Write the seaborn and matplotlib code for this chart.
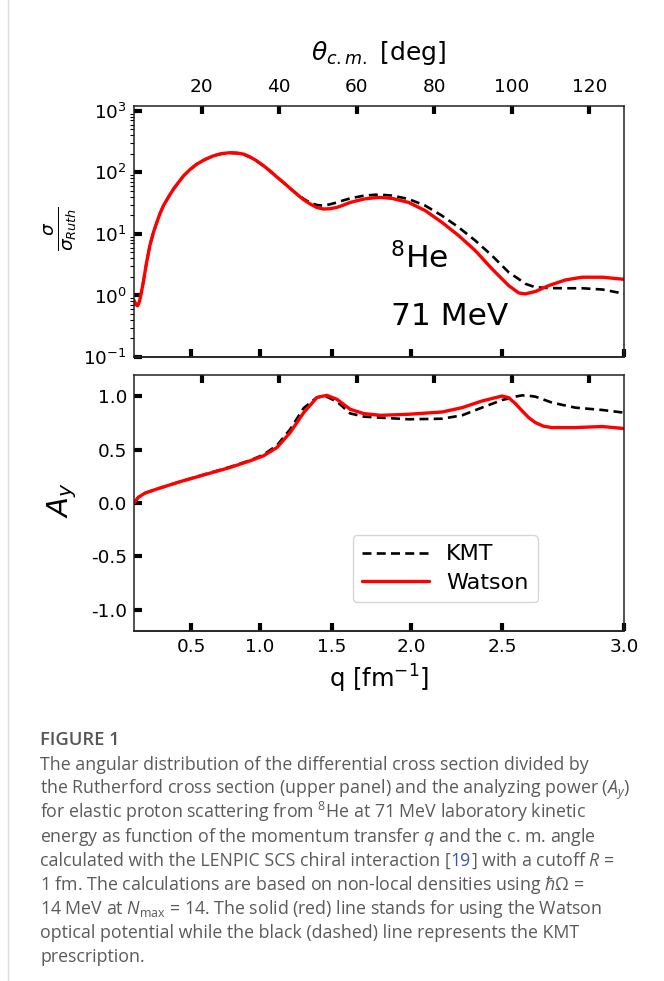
import numpy as np
import matplotlib
matplotlib.use("Agg")
import matplotlib.pyplot as plt
from matplotlib.ticker import FixedLocator, FixedFormatter
import seaborn as sns

# ---------------------------------------------------------------------------
# Data: p + 8He elastic scattering at 71 MeV
# ---------------------------------------------------------------------------
# cross section ratio sigma / sigma_Ruth versus c.m. angle (deg)
theta_xs = [2.5, 3.0, 3.4, 3.9, 4.4, 4.9, 5.7, 6.6, 7.5, 8.4, 9.2, 10.1,
            11.4, 12.7, 14.0, 15.3, 17.0, 18.7, 20.8, 23.0, 25.0, 27.3,
            29.0, 30.8, 32.5, 34.2, 35.9, 37.6, 39.3, 41.1, 42.8, 44.5,
            46.2, 48.0, 49.7, 51.4, 53.1, 54.9, 56.6, 58.3, 61.8, 64.8,
            66.1, 69.1, 73.4, 77.7, 82.0, 86.3, 90.6, 94.9, 99.2, 101.8,
            103.5, 106.1, 109.6, 113.9, 118.2, 123.4, 129.0]
xs_kmt = [0.83, 0.71, 0.68, 0.79, 1.12, 1.64, 3.3, 6.5, 10.5, 15.5, 21.4, 28.8,
          39.8, 53.7, 69.0, 88.0, 112.0, 136.0, 162.0, 186.0, 200.0, 207.0,
          205.0, 196.0, 176.0, 152.0, 128.0, 105.0, 85.0, 68.0, 55.0, 45.0,
          37.5, 32.0, 29.5, 28.8, 30.3, 32.5, 35.2, 37.8, 41.8, 43.4,
          43.4, 42.0, 36.9, 28.8, 19.8, 12.8, 7.8, 4.45, 2.39, 1.85,
          1.55, 1.36, 1.32, 1.31, 1.31, 1.25, 1.07]
xs_watson = [0.83, 0.71, 0.68, 0.79, 1.12, 1.64, 3.3, 6.5, 10.5, 15.5, 21.4, 28.8,
             39.8, 53.7, 69.0, 88.0, 112.0, 136.0, 162.0, 186.0, 202.0, 209.0,
             207.0, 198.0, 178.0, 154.0, 129.0, 106.0, 85.0, 68.6, 55.0, 44.5,
             36.3, 30.6, 26.9, 25.4, 25.7, 27.0, 29.5, 32.5, 36.9, 38.9,
             39.2, 37.8, 32.5, 23.9, 15.4, 9.4, 5.36, 2.71, 1.45, 1.10,
             1.06, 1.16, 1.45, 1.79, 1.98, 1.98, 1.83]

# analyzing power A_y versus c.m. angle (deg)
theta_ay = [2.5, 3.6, 5.35, 8.4, 14.4, 20.4, 27.3, 32.5, 35.9, 39.4, 42.8,
            46.3, 49.7, 51.0, 52.3, 54.9, 58.3, 61.8, 66.1, 73.4, 82.0, 87.2,
            92.3, 97.5, 99.2, 101.0, 102.7, 104.4, 106.1, 108.2, 110.4,
            116.4, 123.4, 129.0]
ay_kmt = [0.0, 0.053, 0.093, 0.131, 0.20, 0.265, 0.338, 0.40, 0.452, 0.54, 0.69,
          0.89, 0.99, 1.0, 0.995, 0.95, 0.84, 0.81, 0.80, 0.785, 0.79, 0.822,
          0.894, 0.965, 0.98, 0.998, 1.009, 1.005, 0.997, 0.97, 0.941,
          0.894, 0.872, 0.847]
ay_watson = [0.0, 0.053, 0.093, 0.131, 0.20, 0.262, 0.333, 0.396, 0.442, 0.52, 0.66,
             0.847, 0.988, 1.0, 1.009, 0.972, 0.879, 0.838, 0.822, 0.832, 0.853, 0.894,
             0.956, 1.003, 0.988, 0.93, 0.863, 0.80, 0.754, 0.72, 0.707,
             0.707, 0.717, 0.698]

theta_ticks = [20, 40, 60, 80, 100, 120]
q_ticks = [0.5, 1.0, 1.5, 2.0, 2.5, 3.0]
q_ticklabels = ["0.5", "1.0", "1.5", "2.0", "2.5", "3.0"]
ay_ticks = [-1.0, -0.5, 0.0, 0.5, 1.0]
ay_ticklabels = ["-1.0", "-0.5", "0.0", "0.5", "1.0"]

# c.m. momentum (fm^-1): q = 2 k sin(theta/2)
K_CM = 1.662


def deg_to_q(t):
    return 2.0 * K_CM * np.sin(np.radians(np.asarray(t, dtype=float)) / 2.0)


def q_to_deg(q):
    r = np.clip(np.asarray(q, dtype=float) / (2.0 * K_CM), -1.0, 1.0)
    return np.degrees(2.0 * np.arcsin(r))


# ---------------------------------------------------------------------------
# Style
# ---------------------------------------------------------------------------
sns.set_style("ticks")
plt.rcParams["font.family"] = ["DejaVu Sans"]
plt.rcParams["axes.unicode_minus"] = False
plt.rcParams["mathtext.rm"] = "Open Sans"
plt.rcParams["mathtext.it"] = "Open Sans:italic"
plt.rcParams["mathtext.bf"] = "Open Sans:bold"
plt.rcParams["axes.edgecolor"] = "#222222"
plt.rcParams["axes.linewidth"] = 1.1
for key in ("text.color", "axes.labelcolor", "xtick.color", "ytick.color",
            "xtick.labelcolor", "ytick.labelcolor"):
    plt.rcParams[key] = "black"

W, H = 664, 981
fig = plt.figure(figsize=(W / 100, H / 100), dpi=100)
fig.patch.set_facecolor("white")

ax1 = fig.add_axes([134 / W, 1 - 357 / H, 490 / W, 251 / H])
ax2 = fig.add_axes([134 / W, 1 - 631 / H, 490 / W, 256 / H])

XLIM = (2.5, float(q_to_deg(3.0)))
KMT_STYLE = dict(color="black", linewidth=1.9, linestyle=(0, (3.4, 2.0)))
WAT_STYLE = dict(color="#ff0000", linewidth=2.4, linestyle="-")
MAJ = dict(direction="in", length=6, width=3, color="black", labelsize=13.3,
           labelcolor="black")

# ---------------- upper panel: cross section ratio ----------------
sns.lineplot(x=theta_xs, y=xs_kmt, ax=ax1, legend=False, **KMT_STYLE)
sns.lineplot(x=theta_xs, y=xs_watson, ax=ax1, legend=False, **WAT_STYLE)
ax1.set_yscale("log")
ax1.set_ylim(0.1, 1200)
ax1.set_xlim(*XLIM)
ax1.xaxis.tick_top()
ax1.xaxis.set_label_position("top")
ax1.set_xticks(theta_ticks)
ax1.set_xticklabels([str(t) for t in theta_ticks])
ax1.tick_params(axis="x", which="major", pad=7, **MAJ)
ax1.tick_params(axis="y", which="major", pad=5, **MAJ)
ax1.tick_params(axis="y", which="minor", direction="out", length=3,
                width=0.8, color="black")
ax1.set_xlabel(r"$\theta_{c.m.}$ [deg]", fontsize=18, labelpad=13)
ax1.set_ylabel(r"$\frac{\sigma}{\sigma_{Ruth}}$", fontsize=19)
ax1.yaxis.set_label_coords(-0.112, 0.51)

sec1 = ax1.secondary_xaxis("bottom", functions=(deg_to_q, q_to_deg))
sec1.xaxis.set_major_locator(FixedLocator(q_ticks))
sec1.tick_params(axis="x", which="major", labelbottom=False, **MAJ)
sec1.tick_params(axis="x", which="minor", length=0)

ax1.text(68.6, 2.74, r"$^{8}$He", fontsize=22.5, ha="left", va="baseline")
ax1.text(68.8, 0.33, "71 MeV", fontsize=22.5, ha="left", va="baseline")

# ---------------- lower panel: analyzing power ----------------
sns.lineplot(x=theta_ay, y=ay_kmt, ax=ax2, label="KMT", **KMT_STYLE)
sns.lineplot(x=theta_ay, y=ay_watson, ax=ax2, label="Watson", **WAT_STYLE)
ax2.set_xlim(*XLIM)
ax2.set_ylim(-1.2, 1.2)
ax2.xaxis.tick_top()
ax2.set_xticks(theta_ticks)
ax2.tick_params(axis="x", which="major", labeltop=False, **MAJ)
ax2.set_yticks(ay_ticks)
ax2.set_yticklabels(ay_ticklabels)
ax2.tick_params(axis="y", which="major", pad=5, **MAJ)
ax2.set_ylabel(r"$A_y$", fontsize=21)
ax2.yaxis.set_label_coords(-0.112, 0.51)
ax2.set_xlabel("")

sec2 = ax2.secondary_xaxis("bottom", functions=(deg_to_q, q_to_deg))
sec2.xaxis.set_major_locator(FixedLocator(q_ticks))
sec2.xaxis.set_major_formatter(FixedFormatter(q_ticklabels))
sec2.tick_params(axis="x", which="major", pad=5, **MAJ)
sec2.tick_params(axis="x", which="minor", length=0)
sec2.set_xlabel(r"q [fm$^{-1}$]", fontsize=17.5, labelpad=5)

leg = ax2.legend(loc="lower left", bbox_to_anchor=(0.447, 0.113),
                 borderaxespad=0, fontsize=16, handlelength=3.0,
                 handletextpad=0.8, labelspacing=0.4, frameon=True)
leg.get_frame().set_edgecolor("#cccccc")
leg.get_frame().set_linewidth(1.0)
for txt in leg.get_texts():
    txt.set_color("black")

# ---------------- caption ----------------
CAP = dict(family=["Open Sans", "DejaVu Sans"], fontsize=12.8,
           color="#5a5a5a", va="baseline", ha="left", math_fontfamily="custom")
X0 = 40
fig.text(X0 / W, 1 - 745 / H, "FIGURE 1", family=["Open Sans", "DejaVu Sans"],
         fontsize=13.2, fontweight="semibold", color="#555555", va="baseline")

caption_lines = [
    [("The angular distribution of the differential cross section divided by", None)],
    [("the Rutherford cross section (upper panel) and the analyzing power ($A_y$)", None)],
    [("for elastic proton scattering from ${}^{8}$He at 71 MeV laboratory kinetic", None)],
    [("energy as function of the momentum transfer $q$ and the c. m. angle", None)],
    [("calculated with the LENPIC SCS chiral interaction [", None),
     ("19", "#3a55b4"),
     ("] with a cutoff $R$ =", None)],
    [(r"1 fm. The calculations are based on non-local densities using $\hbar\Omega$ =", None)],
    [(r"14 MeV at $N_{\rm max}$ = 14. The solid (red) line stands for using the Watson", None)],
    [("optical potential while the black (dashed) line represents the KMT", None)],
    [("prescription.", None)],
]

renderer = fig.canvas.get_renderer()
y = 770
for parts in caption_lines:
    x = X0
    for txt, col in parts:
        kw = dict(CAP)
        if col is not None:
            kw["color"] = col
        t = fig.text(x / W, 1 - y / H, txt, **kw)
        x = t.get_window_extent(renderer).x1
    y += 24

# thin page rule on the left
fig.add_artist(plt.Line2D([8 / W, 8 / W], [0, 1], transform=fig.transFigure,
                          color="#dddddd", linewidth=1.0))

fig.savefig("out.png", dpi=100, facecolor="white")
